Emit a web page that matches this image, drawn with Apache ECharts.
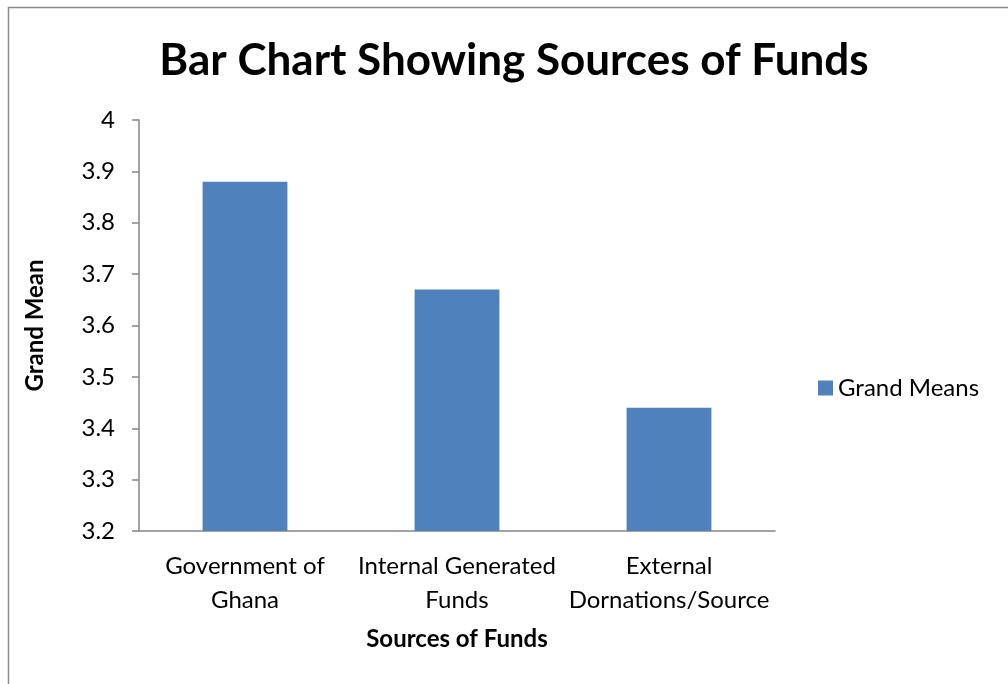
<!DOCTYPE html>
<html>
<head>
<meta charset="utf-8">
<script src="https://cdn.jsdelivr.net/npm/echarts@6/dist/echarts.min.js"></script>
<style>
  html, body { margin: 0; padding: 0; background: #fff; }
  #chart { width: 1008px; height: 684px; }
</style>
</head>
<body>
<div id="chart"></div>
<script>
var categories = ["Government of\nGhana", "Internal Generated\nFunds", "External\nDornations/Source"];
var grandMeans = [3.88, 3.67, 3.44];
var yMin = 3.2, yMax = 4, yStep = 0.1;

var font = "Lato, 'Open Sans', sans-serif";
var myChart = echarts.init(document.getElementById("chart"));

var option = {
  backgroundColor: "#fff",
  animation: false,
  title: {
    text: "Bar Chart Showing Sources of Funds",
    left: 509,
    textAlign: "center",
    top: 34,
    textStyle: { fontFamily: font, fontSize: 44, fontWeight: "bold", color: "#000" }
  },
  graphic: [
    {
      type: "rect",
      shape: { x: 8.5, y: 7.5, width: 1010, height: 690 },
      style: { fill: "none", stroke: "#8c8c8c", lineWidth: 1.5 },
      silent: true
    }
  ],
  legend: {
    left: 813,
    top: 371,
    itemWidth: 15,
    itemHeight: 15,
    itemGap: 6,
    icon: "rect",
    textStyle: { fontFamily: font, fontSize: 24, color: "#000" },
    data: ["Grand Means"]
  },
  grid: { left: 139, top: 120, right: 233, bottom: 153 },
  xAxis: {
    type: "category",
    data: categories,
    name: "Sources of Funds",
    nameLocation: "middle",
    nameGap: 96,
    nameTextStyle: { fontFamily: font, fontSize: 24, fontWeight: "bold", color: "#000" },
    axisLine: { lineStyle: { color: "#868686", width: 1.5 } },
    axisTick: { show: false },
    axisLabel: {
      interval: 0,
      margin: 18,
      lineHeight: 34,
      fontFamily: font, fontSize: 24, color: "#000"
    }
  },
  yAxis: {
    type: "value",
    min: yMin,
    max: yMax,
    interval: yStep,
    name: "Grand Mean",
    nameLocation: "middle",
    nameGap: 92,
    nameRotate: 90,
    nameTextStyle: { fontFamily: font, fontSize: 24, fontWeight: "bold", color: "#000" },
    axisLine: { show: true, lineStyle: { color: "#868686", width: 1.5 } },
    axisTick: { show: true, length: 7, lineStyle: { color: "#868686", width: 1.5 } },
    splitLine: { show: false },
    axisLabel: {
      margin: 24,
      fontFamily: font, fontSize: 24, color: "#000",
      formatter: function (v) { return String(Math.round(v * 10) / 10); }
    }
  },
  series: [
    {
      name: "Grand Means",
      type: "bar",
      data: grandMeans,
      barWidth: "40%",
      itemStyle: { color: "#4f81bd" }
    }
  ]
};

myChart.setOption(option);
</script>
</body>
</html>
